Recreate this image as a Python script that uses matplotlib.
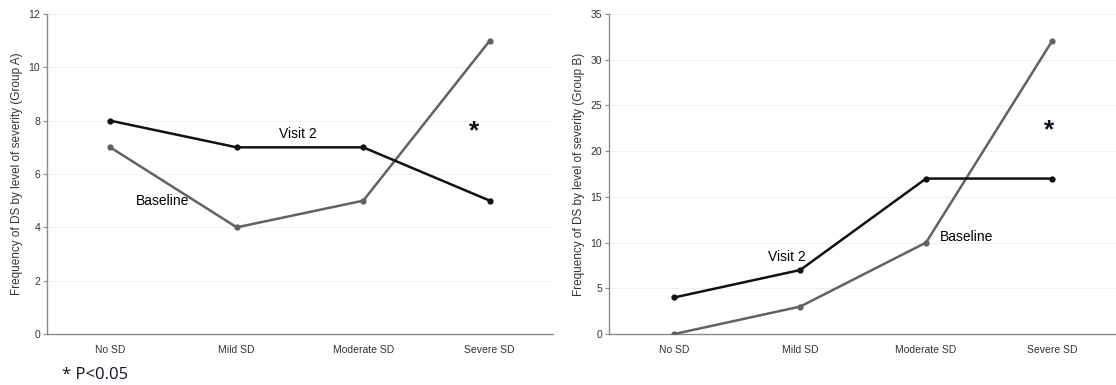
import matplotlib.pyplot as plt

categories = ["No SD", "Mild SD", "Moderate SD", "Severe SD"]

# Group A
a_visit2 = [8, 7, 7, 5]
a_baseline = [7, 4, 5, 11]
# Group B
b_visit2 = [4, 7, 17, 17]
b_baseline = [0, 3, 10, 32]

W, H = 1116, 385
fig = plt.figure(figsize=(W / 100, H / 100), dpi=100)
plt.rcParams["font.family"] = ["Liberation Sans", "DejaVu Sans"]


def px_axes(x0, y0, x1, y1):
    # pixel box -> figure fraction
    return fig.add_axes([x0 / W, 1 - y1 / H, (x1 - x0) / W, (y1 - y0) / H])


def style(ax, ymax, step, xlim, ylabel):
    ax.set_xlim(*xlim)
    ax.set_ylim(0, ymax)
    ax.set_yticks(range(0, ymax + 1, step))
    ax.set_xticks(range(len(categories)))
    ax.set_xticklabels(categories)
    for s in ["top", "right"]:
        ax.spines[s].set_visible(False)
    for s in ["left", "bottom"]:
        ax.spines[s].set_color("#8a8a8a")
        ax.spines[s].set_linewidth(1.0)
    ax.tick_params(axis="y", length=3, color="#8a8a8a", labelsize=7.5, labelcolor="#333333", pad=2)
    ax.tick_params(axis="x", length=0, labelsize=7.5, labelcolor="#333333", pad=8)
    ax.yaxis.grid(True, color="#f0f0f0", linewidth=0.8)
    ax.set_axisbelow(True)
    ax.set_ylabel(ylabel, fontsize=8.5, color="#333333", labelpad=4)


x = range(len(categories))

ax1 = px_axes(47, 14, 553, 334)
style(ax1, 12, 2, (-0.5, 3.5), "Frequency of DS by level of severity (Group A)")
ax1.plot(x, a_baseline, color="#626262", lw=1.8, marker="o", ms=3.5, zorder=3)
ax1.plot(x, a_visit2, color="#111111", lw=1.8, marker="o", ms=3.5, zorder=4)
ax1.text(1.48, 7.5, "Visit 2", fontsize=10, ha="center", va="center")
ax1.text(0.41, 5.0, "Baseline", fontsize=10, ha="center", va="center")
ax1.text(2.88, 7.6, "*", fontsize=19, fontweight="bold", ha="center", va="center", color="#111122")

ax2 = px_axes(609, 14, 1116, 334)
style(ax2, 35, 5, (-0.52, 3.51), "Frequency of DS by level of severity (Group B)")
ax2.plot(x, b_baseline, color="#626262", lw=1.8, marker="o", ms=3.5, zorder=3)
ax2.plot(x, b_visit2, color="#111111", lw=1.8, marker="o", ms=3.5, zorder=4)
ax2.text(0.89, 8.4, "Visit 2", fontsize=10, ha="center", va="center")
ax2.text(2.32, 10.6, "Baseline", fontsize=10, ha="center", va="center")
ax2.text(2.98, 22.3, "*", fontsize=19, fontweight="bold", ha="center", va="center", color="#111122")

fig.text(62 / W, 1 - 375 / H, "* P<0.05", fontsize=12, family=["Open Sans", "DejaVu Sans"],
         ha="left", va="center", color="#111122")

fig.savefig("out.png", dpi=100)
